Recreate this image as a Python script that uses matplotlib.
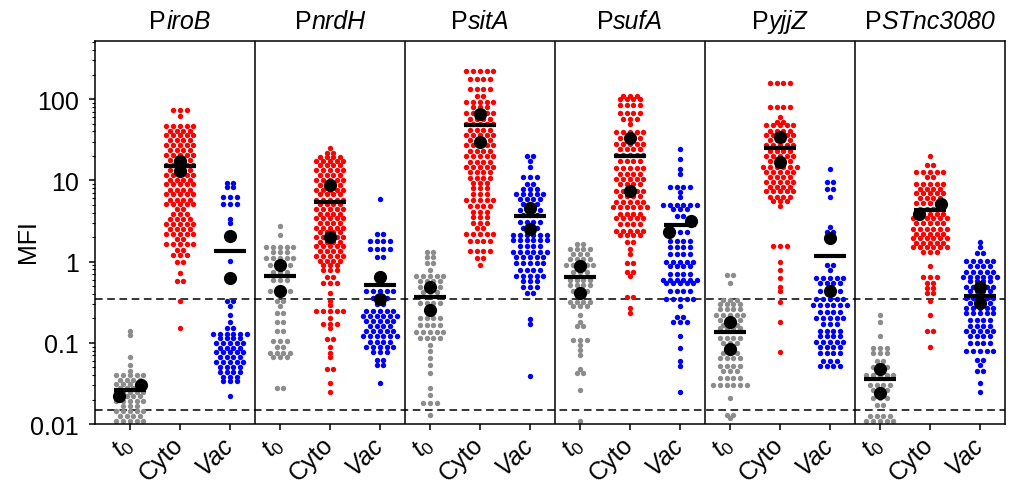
import numpy as np
import matplotlib.pyplot as plt
from matplotlib.offsetbox import TextArea, HPacker, AnnotationBbox
from matplotlib.transforms import blended_transform_factory, ScaledTranslation

plt.rcParams['font.family'] = ['Liberation Sans', 'DejaVu Sans']
plt.rcParams['mathtext.fontset'] = 'custom'
plt.rcParams['mathtext.rm'] = 'Liberation Sans'
plt.rcParams['mathtext.it'] = 'Liberation Sans:italic'

genes = ['iroB', 'nrdH', 'sitA', 'sufA', 'yjjZ', 'STnc3080']
group_labels = ['$t_0$', 'Cyto', 'Vac']
colors = ['#8c8c8c', '#ff0000', '#0000ff']

# each swarm: rows of (MFI, number of bacteria at that level)
iroB_t0 = [(0.14, 1), (0.125, 1), (0.067, 1), (0.054, 1), (0.045, 1), (0.040, 5), (0.035, 4),
           (0.031, 5), (0.028, 4), (0.025, 5), (0.022, 4), (0.019, 5), (0.0165, 3), (0.0145, 5),
           (0.0125, 4), (0.011, 5)]
iroB_cyto = [(73, 3), (62, 1), (47, 5), (41, 4), (36, 5), (31, 4), (27, 5), (23.5, 4), (20.5, 5),
             (18, 4), (15.5, 5), (13.5, 4), (11.7, 5), (10.2, 4), (8.9, 5), (7.7, 4), (6.7, 5),
             (5.8, 4), (5.1, 5), (4.4, 2), (3.8, 3), (3.3, 4), (2.9, 5), (2.5, 4), (2.2, 5),
             (1.9, 2), (1.65, 5), (1.4, 2), (1.2, 3), (1.0, 2), (0.72, 1), (0.57, 2), (0.33, 1),
             (0.15, 1)]
iroB_vac = [(9.2, 2), (8.2, 2), (6.2, 3), (5.1, 3), (3.3, 1), (3.0, 1), (1.03, 1), (0.33, 2),
            (0.28, 1), (0.22, 1), (0.18, 1), (0.15, 2), (0.13, 6), (0.115, 4), (0.1, 5),
            (0.087, 4), (0.076, 5), (0.066, 4), (0.058, 5), (0.05, 4), (0.044, 4), (0.038, 3),
            (0.034, 3), (0.022, 1)]

nrdH_t0 = [(2.77, 1), (2.1, 1), (1.53, 5), (1.3, 3), (1.1, 5), (0.9, 4), (0.75, 3), (0.6, 3),
           (0.43, 4), (0.33, 2), (0.28, 1), (0.23, 2), (0.18, 2), (0.14, 2), (0.104, 3),
           (0.09, 2), (0.075, 4), (0.066, 3), (0.028, 2)]
nrdH_cyto = [(25, 1), (22, 2), (19.5, 4), (17.5, 5), (15.3, 4), (13.3, 5), (11.6, 4), (10.1, 5),
             (8.8, 4), (7.7, 5), (6.7, 4), (5.8, 5), (5.1, 4), (4.4, 5), (3.9, 4), (3.4, 5),
             (3.0, 4), (2.6, 5), (2.3, 4), (2.0, 5), (1.75, 4), (1.55, 5), (1.35, 4), (1.18, 5),
             (1.02, 4), (0.9, 3), (0.78, 3), (0.65, 2), (0.54, 3), (0.41, 1), (0.33, 1), (0.29, 1),
             (0.245, 5), (0.2, 1), (0.17, 3), (0.15, 1), (0.11, 2), (0.09, 1), (0.075, 1),
             (0.066, 1), (0.048, 2), (0.032, 1), (0.025, 1)]
nrdH_vac = [(5.9, 1), (2.2, 2), (1.8, 4), (1.44, 4), (1.15, 2), (0.43, 5), (0.36, 3), (0.3, 2),
            (0.245, 5), (0.215, 6), (0.185, 5), (0.16, 4), (0.14, 5), (0.122, 6), (0.102, 4),
            (0.089, 5), (0.077, 3), (0.062, 2), (0.053, 2), (0.032, 1)]

sitA_t0 = [(1.33, 2), (1.15, 2), (0.95, 2), (0.78, 1), (0.67, 5), (0.57, 4), (0.49, 4), (0.42, 3),
           (0.31, 4), (0.25, 2), (0.2, 4), (0.165, 4), (0.135, 5), (0.115, 4), (0.094, 1),
           (0.079, 1), (0.065, 1), (0.053, 1), (0.043, 1), (0.028, 1), (0.023, 1), (0.018, 3),
           (0.013, 1)]
sitA_cyto = [(220, 5), (175, 4), (133, 4), (109, 2), (92, 5), (80, 3), (67, 5), (57, 4), (49, 5),
             (42, 4), (36, 5), (31, 4), (27, 5), (23, 4), (20, 5), (17, 4), (14.5, 5), (12.5, 4),
             (10.8, 4), (9.4, 3), (8, 3), (6.8, 3), (5.7, 5), (4.8, 4), (4.1, 3), (3.5, 3),
             (3.0, 3), (2.6, 2), (2.2, 5), (1.8, 4), (1.35, 4), (1.1, 2), (0.92, 1)]
sitA_vac = [(20, 2), (17.5, 1), (14.7, 1), (11, 3), (9.1, 2), (7.9, 3), (6.8, 5), (5.9, 4),
            (5.1, 3), (4.3, 4), (3.7, 3), (3.1, 4), (2.6, 3), (2.15, 6), (1.85, 6), (1.57, 4),
            (1.3, 6), (1.15, 5), (0.95, 5), (0.78, 4), (0.67, 5), (0.58, 3), (0.49, 3), (0.41, 2),
            (0.195, 1), (0.17, 1), (0.039, 1)]

sufA_t0 = [(1.66, 2), (1.44, 4), (1.25, 3), (1.09, 4), (0.9, 5), (0.75, 3), (0.6, 4), (0.51, 4),
           (0.43, 3), (0.32, 4), (0.28, 3), (0.22, 1), (0.18, 1), (0.16, 2), (0.107, 3),
           (0.094, 1), (0.081, 1), (0.07, 1), (0.047, 1), (0.042, 2), (0.026, 1), (0.011, 1)]
sufA_cyto = [(110, 3), (100, 4), (85, 4), (67, 4), (57, 3), (50, 1), (39, 5), (33, 4), (28, 5),
             (24, 4), (20.5, 5), (17.5, 4), (14, 5), (12, 4), (10.4, 5), (9.1, 4), (7.5, 5),
             (6.4, 4), (5.4, 5), (4.7, 6), (3.9, 4), (3.4, 5), (2.9, 4), (2.4, 5), (2.1, 4),
             (1.76, 2), (1.44, 1), (1.25, 1), (0.95, 2), (0.75, 2), (0.67, 1), (0.37, 2),
             (0.27, 1), (0.23, 1)]
sufA_vac = [(24, 1), (18.4, 1), (13.8, 1), (12, 1), (8.3, 4), (7.2, 1), (6.3, 1), (5.0, 6),
            (4.5, 3), (3.6, 2), (2.3, 3), (1.8, 4), (1.53, 4), (1.25, 4), (1.0, 5), (0.87, 4),
            (0.71, 4), (0.6, 6), (0.54, 5), (0.43, 4), (0.35, 5), (0.28, 1), (0.21, 2), (0.18, 3),
            (0.12, 1), (0.086, 1), (0.06, 1), (0.052, 1), (0.025, 1)]

yjjZ_t0 = [(0.69, 2), (0.55, 1), (0.34, 3), (0.3, 4), (0.26, 4), (0.22, 5), (0.19, 4),
           (0.165, 3), (0.15, 4), (0.115, 4), (0.1, 3), (0.075, 3), (0.065, 4), (0.052, 4),
           (0.045, 3), (0.037, 4), (0.03, 6), (0.021, 1), (0.013, 2), (0.012, 1)]
yjjZ_cyto = [(160, 4), (80, 4), (60, 1), (53, 2), (48, 5), (41, 4), (36, 5), (31, 4), (27, 5),
             (23, 4), (20, 5), (17.5, 4), (14.8, 6), (12.8, 5), (11, 4), (9.6, 5), (8.4, 4),
             (7.3, 5), (6.3, 4), (5.6, 3), (4.9, 1), (1.55, 3), (1.0, 1), (0.78, 1), (0.63, 1),
             (0.49, 1), (0.43, 1), (0.32, 1), (0.18, 1), (0.076, 1)]
yjjZ_vac = [(13.8, 1), (9.6, 2), (7.9, 2), (6.3, 1), (2.7, 1), (2.3, 2), (0.92, 2), (0.78, 1),
            (0.63, 5), (0.54, 4), (0.43, 4), (0.35, 5), (0.29, 6), (0.24, 4), (0.2, 5), (0.17, 3),
            (0.14, 4), (0.12, 4), (0.103, 5), (0.088, 4), (0.074, 4), (0.059, 3), (0.052, 4)]

stnc_t0 = [(0.22, 1), (0.18, 1), (0.12, 1), (0.086, 3), (0.074, 3), (0.059, 2), (0.05, 3),
           (0.04, 5), (0.03, 4), (0.026, 3), (0.021, 3), (0.017, 2), (0.0125, 4), (0.011, 5)]
stnc_cyto = [(20, 1), (15.5, 2), (12.7, 5), (11, 2), (9.1, 5), (7.9, 4), (6.9, 5), (6.0, 4),
             (5.2, 5), (4.5, 4), (3.9, 5), (3.4, 6), (2.95, 5), (2.55, 6), (2.2, 5), (1.95, 6),
             (1.7, 5), (1.5, 6), (1.3, 3), (0.87, 1), (0.65, 3), (0.54, 2), (0.47, 2), (0.41, 2),
             (0.33, 1), (0.22, 1), (0.14, 2), (0.09, 1)]
stnc_vac = [(1.76, 1), (1.53, 1), (1.29, 2), (1.03, 5), (0.89, 4), (0.75, 5), (0.65, 6),
            (0.57, 4), (0.49, 5), (0.43, 4), (0.36, 5), (0.31, 4), (0.27, 5), (0.23, 5),
            (0.19, 4), (0.16, 4), (0.14, 5), (0.12, 4), (0.099, 4), (0.079, 5), (0.061, 2),
            (0.053, 1), (0.045, 2), (0.032, 1), (0.025, 1)]

swarms = [
    [iroB_t0, iroB_cyto, iroB_vac],
    [nrdH_t0, nrdH_cyto, nrdH_vac],
    [sitA_t0, sitA_cyto, sitA_vac],
    [sufA_t0, sufA_cyto, sufA_vac],
    [yjjZ_t0, yjjZ_cyto, yjjZ_vac],
    [stnc_t0, stnc_cyto, stnc_vac],
]

# median bars
medians = [
    [0.026, 15, 1.36],
    [0.67, 5.4, 0.51],
    [0.37, 48, 3.6],
    [0.65, 20, 2.8],
    [0.135, 25, 1.18],
    [0.036, 4.35, 0.38],
]

# per-replicate medians (big black dots)
replicates = [
    [(0.022, 0.030), (17.4, 13), (2.05, 0.63)],
    [(0.92, 0.43), (8.8, 2.0), (0.65, 0.35)],
    [(0.48, 0.25), (65, 30), (4.6, 2.5)],
    [(0.89, 0.41), (33, 7.4), (3.2, 2.3)],
    [(0.18, 0.083), (34, 17), (1.97, 0.43)],
    [(0.047, 0.024), (5.1, 3.9), (0.49, 0.31)],
]

thresholds = [0.35, 0.015]

# replicate dots that sit next to each other instead of on the centre line
side_by_side = {(0, 0), (3, 2), (5, 1)}

DX = 0.135     # horizontal dot spacing within a row (data units)
fig = plt.figure(figsize=(10.18, 4.85), dpi=100)
ax = fig.add_axes([0.0933, 0.1237, 0.8939, 0.7897])

for p in range(len(genes)):
    for g in range(3):
        x0 = 3 * p + g
        xs, ys = [], []
        for val, n in swarms[p][g]:
            xs.extend(x0 + (np.arange(n) - (n - 1) / 2) * DX)
            ys.extend([val] * n)
        ax.scatter(xs, ys, s=15, color=colors[g], linewidths=0, zorder=2)
        ax.plot([x0 - 0.32, x0 + 0.32], [medians[p][g]] * 2, color='k', lw=3,
                solid_capstyle='butt', zorder=3)
        reps = sorted(replicates[p][g])
        rx = [x0 - 0.22, x0 + 0.22] if (p, g) in side_by_side else [x0, x0]
        ax.scatter(rx, reps, s=90, color='k', linewidths=0, zorder=4)

for b in np.arange(2.5, 3 * len(genes) - 1, 3):
    ax.axvline(b, color='k', lw=1.1, zorder=1)
for t in thresholds:
    ax.axhline(t, color='k', lw=1.1, ls=(0, (5, 3)), zorder=1)

ax.set_yscale('log')
ax.set_ylim(0.01, 520)
ax.set_xlim(-0.7, 3 * len(genes) - 0.5)
ax.set_yticks([0.01, 0.1, 1, 10, 100])
ax.set_yticklabels(['0.01', '0.1', '1', '10', '100'], fontsize=18)
ax.set_xticks(range(3 * len(genes)))
ax.set_xticklabels(group_labels * len(genes), fontsize=18, rotation=45,
                   ha='right', va='center', rotation_mode='anchor')
shift = ScaledTranslation(5 / 100, 0, fig.dpi_scale_trans)
for i, lab in enumerate(ax.get_xticklabels()):
    lab.set_transform(lab.get_transform() + shift)
    if i % 3 == 2:
        lab.set_fontstyle('italic')
ax.tick_params(axis='both', which='major', direction='out', length=4.5, width=1.1, pad=7)
ax.tick_params(axis='y', which='minor', direction='out', length=2.2, width=0.8)
ax.tick_params(axis='x', which='minor', bottom=False)
for s in ax.spines.values():
    s.set_linewidth(1.1)

fig.text(28 / 1018, 1 - 242 / 485, 'MFI', rotation=90, ha='center', va='center', fontsize=18)

trans = blended_transform_factory(ax.transData, ax.transAxes)
for p, gene in enumerate(genes):
    box = HPacker(children=[TextArea('P', textprops=dict(fontsize=18)),
                            TextArea(gene, textprops=dict(fontsize=18, fontstyle='italic'))],
                  align='baseline', pad=0, sep=0)
    ab = AnnotationBbox(box, (3 * p + 1, 1.02), xycoords=trans, box_alignment=(0.5, 0),
                        frameon=False, pad=0, annotation_clip=False)
    ax.add_artist(ab)

fig.savefig('out.png', dpi=100)
